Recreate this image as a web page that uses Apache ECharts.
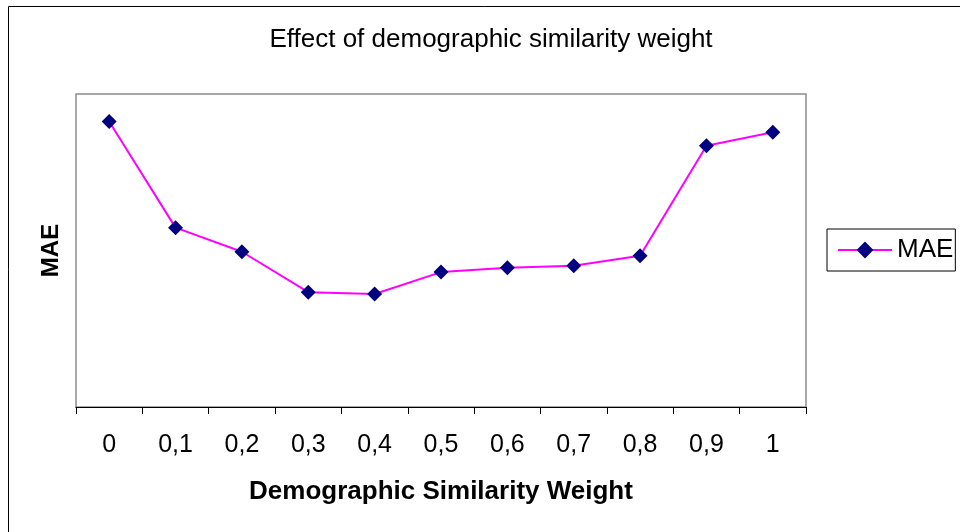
<!DOCTYPE html>
<html>
<head>
<meta charset="utf-8">
<script src="https://cdn.jsdelivr.net/npm/echarts@6/dist/echarts.min.js"></script>
<style>
html,body{margin:0;padding:0;background:#fff;}
#chart{width:960px;height:532px;}
</style>
</head>
<body>
<div id="chart"></div>
<script>
const categories = ['0','0,1','0,2','0,3','0,4','0,5','0,6','0,7','0,8','0,9','1'];
const maeValues = [0.912, 0.573, 0.496, 0.367, 0.361, 0.431, 0.445, 0.451, 0.483, 0.835, 0.878];
const seriesName = 'MAE';
const titleText = 'Effect of demographic similarity weight';
const xAxisName = 'Demographic Similarity Weight';
const yAxisName = 'MAE';

const FONT = '"Liberation Sans", Arial, sans-serif';
const chart = echarts.init(document.getElementById('chart'), null, {renderer: 'canvas'});
chart.setOption({
  animation: false,
  backgroundColor: '#ffffff',
  title: {
    text: titleText,
    left: 486, top: 22, textAlign: 'center',
    textStyle: {fontFamily: FONT, fontSize: 26, fontWeight: 'normal', color: '#000'}
  },
  graphic: [{
    type: 'rect', silent: true,
    shape: {x: 8.5, y: 6.5, width: 1200, height: 1200},
    style: {fill: 'none', stroke: '#000', lineWidth: 1}
  }],
  legend: {
    data: [seriesName],
    left: 827, top: 229,
    orient: 'vertical',
    padding: [8, 2, 8, 10],
    itemWidth: 54, itemHeight: 21,
    borderColor: '#000', borderWidth: 1,
    textStyle: {fontFamily: FONT, fontSize: 26, color: '#000'}
  },
  grid: {
    left: 76, top: 94, width: 730, height: 313,
    show: true, borderColor: '#8c8c8c', borderWidth: 1.5, backgroundColor: '#fff'
  },
  xAxis: {
    type: 'category',
    data: categories,
    boundaryGap: true,
    name: xAxisName,
    nameLocation: 'middle',
    nameGap: 72,
    nameTextStyle: {fontFamily: FONT, fontSize: 26, fontWeight: 'bold', color: '#000'},
    axisLine: {show: true, lineStyle: {color: '#000', width: 1}},
    axisTick: {show: true, length: 7, lineStyle: {color: '#000'}},
    axisLabel: {fontFamily: FONT, fontSize: 25, color: '#000', margin: 26, interval: 0},
    splitLine: {show: false}
  },
  yAxis: {
    type: 'value',
    min: 0, max: 1,
    name: yAxisName,
    nameLocation: 'middle',
    nameGap: 13,
    nameTextStyle: {fontFamily: FONT, fontSize: 24, fontWeight: 'bold', color: '#000'},
    axisLine: {show: false},
    axisTick: {show: false},
    axisLabel: {show: false},
    splitLine: {show: false}
  },
  series: [{
    name: seriesName,
    type: 'line',
    data: maeValues,
    symbol: 'diamond',
    symbolSize: 15,
    lineStyle: {color: '#ff00ff', width: 2},
    itemStyle: {color: '#000080'},
    emphasis: {disabled: true}
  }]
});
</script>
</body>
</html>
